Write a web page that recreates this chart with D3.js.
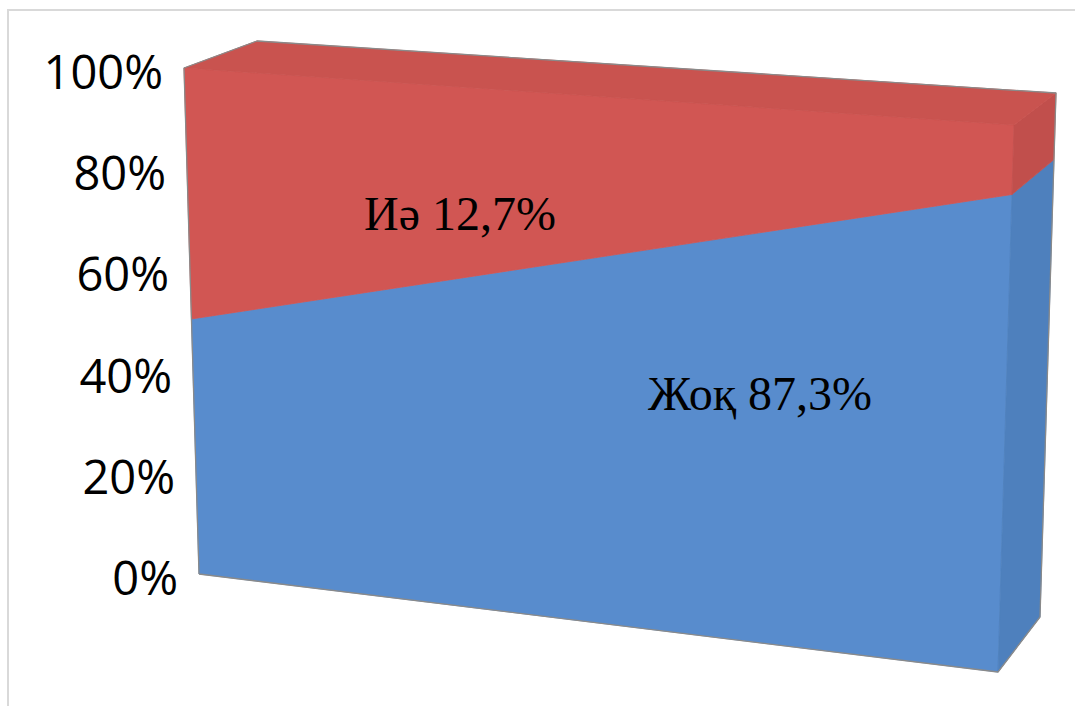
<!DOCTYPE html>
<html>
<head>
<meta charset="utf-8">
<script src="https://cdn.jsdelivr.net/npm/d3@7"></script>
<style>
  html, body { margin: 0; padding: 0; background: #fff; }
  svg { display: block; }
  .tick-label { font-family: "Open Sans", sans-serif; font-size: 47px; fill: #000; }
  .data-label { font-family: "Liberation Serif", "Times New Roman", serif; font-size: 48px; fill: #000; }
</style>
</head>
<body>
<svg id="chart"></svg>
<script>
// data
const categories = ["1", "2"];
const seriesNames = ["Жоқ", "Иә"];
const zhoqValues = [50.4, 87.3];
const ieValues = [49.6, 12.7];
const tickValues = [0, 0.2, 0.4, 0.6, 0.8, 1];
const dataLabels = ["Жоқ 87,3%", "Иә 12,7%"];

const w = 1075, h = 706;
const svg = d3.select("#chart").attr("width", w).attr("height", h);

// chart area border
svg.append("rect")
  .attr("x", 8).attr("y", 10)
  .attr("width", w).attr("height", h)
  .attr("fill", "none")
  .attr("stroke", "#d9d9d9")
  .attr("stroke-width", 2);

// perspective box: front and back faces (corners from the reference view)
const front = { tl: [184, 68], tr: [1014, 125], br: [998, 672], bl: [199, 574] };
const back = { tl: [257, 41], tr: [1056, 93], br: [1040, 617], bl: [272, 523] };

const xScale = d3.scalePoint().domain(categories).range([0, 1]);
const yScale = d3.scaleLinear().domain([0, 1]).range([0, 1]);

function quad(q, u, v) {
  // bilinear inside a face, u left->right, v bottom->top
  const bx = q.bl[0] + (q.br[0] - q.bl[0]) * u, by = q.bl[1] + (q.br[1] - q.bl[1]) * u;
  const tx = q.tl[0] + (q.tr[0] - q.tl[0]) * u, ty = q.tl[1] + (q.tr[1] - q.tl[1]) * u;
  return [bx + (tx - bx) * v, by + (ty - by) * v];
}
function proj(u, v, d) {
  const f = quad(front, u, v), b = quad(back, u, v);
  return [f[0] + (b[0] - f[0]) * d, f[1] + (b[1] - f[1]) * d];
}

const table = categories.map((c, i) => ({ cat: c, "Жоқ": zhoqValues[i], "Иә": ieValues[i] }));
const stack = d3.stack().keys(seriesNames).offset(d3.stackOffsetExpand)(table);

const colors = {
  "Жоқ": { front: "#588ccd", side: "#4e80bd", top: "#5586c6" },
  "Иә": { front: "#d15653", side: "#c14f4c", top: "#c9534f" }
};

const line = d3.line();
const last = categories[categories.length - 1];
const g = svg.append("g");

stack.forEach(s => {
  const c = colors[s.key];
  // front face
  const pts = s.map(d => proj(xScale(d.data.cat), yScale(d[1]), 0))
    .concat(s.slice().reverse().map(d => proj(xScale(d.data.cat), yScale(d[0]), 0)));
  g.append("path").attr("d", line(pts) + "Z")
    .attr("fill", c.front).attr("stroke", c.front).attr("stroke-width", 0.8);
  // right side face
  const e = s[s.length - 1];
  const u = xScale(last);
  const side = [proj(u, yScale(e[0]), 0), proj(u, yScale(e[0]), 1), proj(u, yScale(e[1]), 1), proj(u, yScale(e[1]), 0)];
  g.append("path").attr("d", line(side) + "Z")
    .attr("fill", c.side).attr("stroke", c.side).attr("stroke-width", 0.8);
});

// top face of the upper series
const topS = stack[stack.length - 1];
const topPts = topS.map(d => proj(xScale(d.data.cat), yScale(d[1]), 0))
  .concat(topS.slice().reverse().map(d => proj(xScale(d.data.cat), yScale(d[1]), 1)));
g.append("path").attr("d", line(topPts) + "Z")
  .attr("fill", colors[topS.key].top).attr("stroke", colors[topS.key].top).attr("stroke-width", 0.8);

// outline of the silhouette
const outline = [proj(0, 0, 0), proj(0, 1, 0), proj(0, 1, 1), proj(1, 1, 1), proj(1, 0, 1), proj(1, 0, 0), proj(0, 0, 0)];
g.append("path").attr("d", line(outline))
  .attr("fill", "none").attr("stroke", "#8a8a8a").attr("stroke-width", 1.3)
  .attr("stroke-linejoin", "round");

// y axis labels, following the left edge
svg.append("g").selectAll("text")
  .data(tickValues)
  .join("text")
  .attr("class", "tick-label")
  .attr("text-anchor", "end")
  .attr("x", d => proj(0, yScale(d), 0)[0] - 21)
  .attr("y", d => proj(0, yScale(d), 0)[1] + 21)
  .text(d3.format(".0%"));

// data labels
svg.append("text").attr("class", "data-label").attr("text-anchor", "middle")
  .attr("x", 760).attr("y", 410).text(dataLabels[0]);
svg.append("text").attr("class", "data-label").attr("text-anchor", "middle")
  .attr("x", 460).attr("y", 230).text(dataLabels[1]);
</script>
</body>
</html>
